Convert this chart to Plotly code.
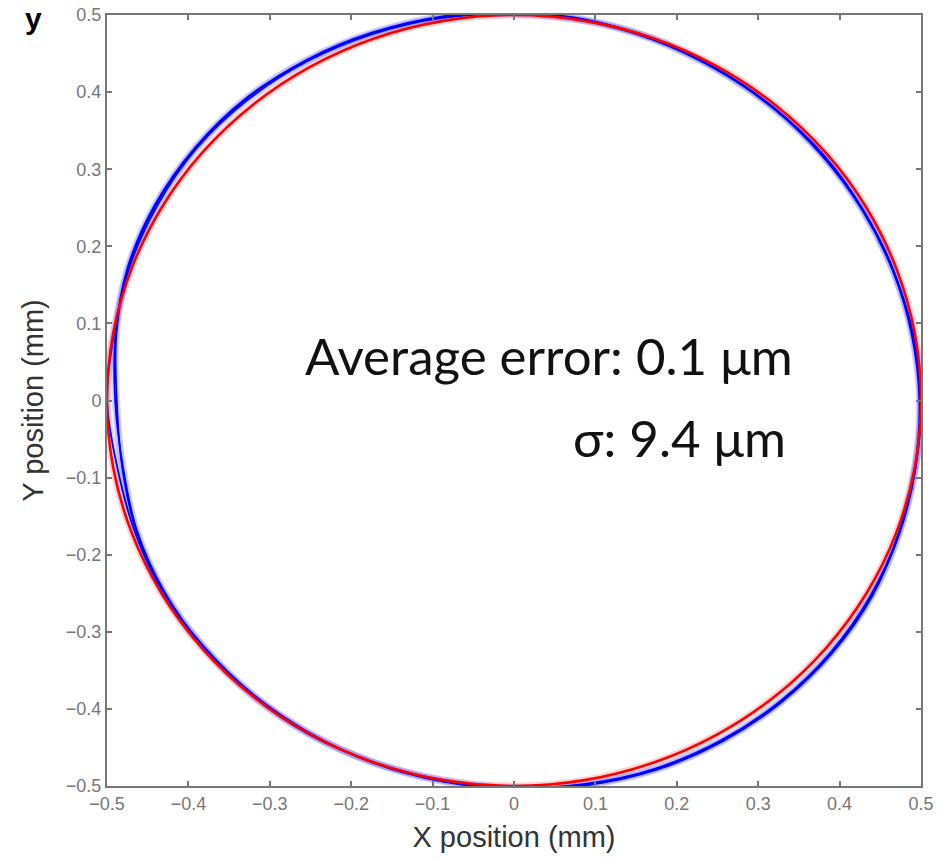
import numpy as np
import plotly.graph_objects as go

# ---- data ----
angles_deg = [0, 10, 20, 30, 40, 50, 60, 70, 80, 90, 100, 110, 120, 130, 140, 150, 160, 170,
              180, 190, 200, 210, 220, 230, 240, 250, 260, 270, 280, 290, 300, 310, 320, 330, 340, 350]

# commanded (reference) circle radius, mm
ref_radius = [0.500] * 36

# measured trajectory: three passes, radius (mm) at each angle
meas_pass1 = [0.499, 0.497, 0.496, 0.495, 0.495, 0.496, 0.497, 0.499, 0.502, 0.503, 0.506, 0.508,
              0.510, 0.511, 0.510, 0.508, 0.504, 0.496, 0.488, 0.489, 0.494, 0.497, 0.498, 0.499,
              0.500, 0.500, 0.501, 0.503, 0.506, 0.509, 0.510, 0.510, 0.509, 0.507, 0.504, 0.501]
meas_pass2 = [0.500, 0.498, 0.495, 0.494, 0.494, 0.495, 0.496, 0.498, 0.500, 0.501, 0.504, 0.506,
              0.508, 0.509, 0.509, 0.506, 0.503, 0.499, 0.500, 0.495, 0.496, 0.498, 0.497, 0.498,
              0.499, 0.501, 0.502, 0.504, 0.507, 0.510, 0.511, 0.511, 0.510, 0.508, 0.503, 0.501]
meas_pass3 = [0.498, 0.496, 0.495, 0.495, 0.496, 0.496, 0.497, 0.500, 0.501, 0.502, 0.505, 0.507,
              0.509, 0.512, 0.511, 0.509, 0.505, 0.497, 0.490, 0.488, 0.493, 0.496, 0.498, 0.500,
              0.501, 0.500, 0.500, 0.502, 0.505, 0.508, 0.509, 0.509, 0.508, 0.506, 0.503, 0.500]

tick_vals = [-0.5, -0.4, -0.3, -0.2, -0.1, 0, 0.1, 0.2, 0.3, 0.4, 0.5]
tick_text = ["−0.5", "−0.4", "−0.3", "−0.2", "−0.1", "0", "0.1", "0.2", "0.3", "0.4", "0.5"]

avg_error_text = "Average error: 0.1 μm"
sigma_text = "σ: 9.4 μm"
panel_label = "y"

# ---- layout geometry (pixels) ----
W, H = 951, 859
L, R, T, B = 107, 30, 15, 73
PW, PH = W - L - R, H - T - B


def px_x(px):
    return (px - L) / PW


def px_y(py):
    return 1 - (py - T) / PH


def to_xy(radii):
    a = np.deg2rad(np.array(angles_deg + [angles_deg[0]], dtype=float))
    r = np.array(list(radii) + [radii[0]], dtype=float)
    return r * np.cos(a), r * np.sin(a)


fig = go.Figure()

# pale sample fuzz under the lines
x, y = to_xy(ref_radius)
fig.add_trace(go.Scatter(x=x, y=y, mode="lines",
                         line=dict(color="rgba(255,130,130,0.35)", width=7, shape="spline"),
                         hoverinfo="skip", showlegend=False))
for radii in [meas_pass1, meas_pass2, meas_pass3]:
    x, y = to_xy(radii)
    fig.add_trace(go.Scatter(x=x, y=y, mode="lines",
                             line=dict(color="rgba(120,120,255,0.25)", width=7, shape="spline"),
                             hoverinfo="skip", showlegend=False))

# measured passes
for radii in [meas_pass1, meas_pass2, meas_pass3]:
    x, y = to_xy(radii)
    fig.add_trace(go.Scatter(x=x, y=y, mode="lines",
                             line=dict(color="#0000ff", width=1.8, shape="spline"),
                             showlegend=False))

# reference circle
x, y = to_xy(ref_radius)
fig.add_trace(go.Scatter(x=x, y=y, mode="lines", line=dict(color="#ff0000", width=2.6, shape="spline"),
                         showlegend=False))

axis_common = dict(
    range=[-0.5, 0.5], tickvals=tick_vals, ticktext=tick_text,
    ticks="inside", ticklen=5, tickwidth=1.5, tickcolor="#777",
    showline=True, linecolor="#777", linewidth=2, mirror="allticks",
    showgrid=False, zeroline=False, automargin=False,
    tickfont=dict(family="Liberation Sans, Arial", size=18, color="#777"),
)

title_font = dict(family="Liberation Sans, Arial", size=29, color="#333")

fig.update_layout(
    width=W, height=H,
    margin=dict(l=L, r=R, t=T, b=B, autoexpand=False),
    paper_bgcolor="white", plot_bgcolor="white",
    xaxis=dict(**axis_common, title=dict(text="X position (mm)", font=title_font, standoff=14)),
    yaxis=dict(**axis_common, title=dict(text="Y position (mm)", font=title_font, standoff=14)),
    annotations=[
        dict(x=px_x(795), y=px_y(355), xref="paper", yref="paper", text=avg_error_text, showarrow=False,
             xanchor="right", yanchor="middle",
             font=dict(family="Lato, Open Sans, sans-serif", size=51, color="#111")),
        dict(x=px_x(788), y=px_y(437), xref="paper", yref="paper", text=sigma_text, showarrow=False,
             xanchor="right", yanchor="middle",
             font=dict(family="Lato, Open Sans, sans-serif", size=51, color="#111")),
        dict(x=px_x(33), y=px_y(0), xref="paper", yref="paper", text="<b>" + panel_label + "</b>",
             showarrow=False, xanchor="center", yanchor="top",
             font=dict(family="Liberation Sans, Arial", size=30, color="#000")),
    ],
)

fig.write_html("out.html", config={"displayModeBar": False},
               post_script="document.body.style.margin='0';")
